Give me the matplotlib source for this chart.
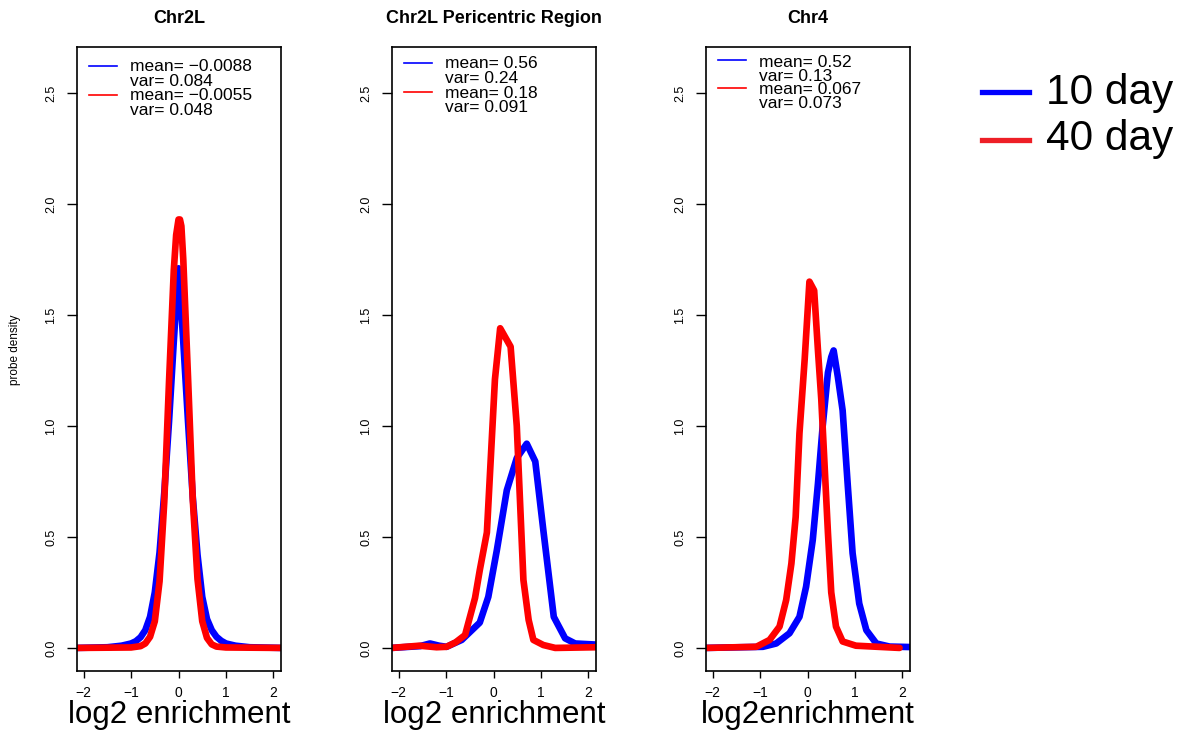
import matplotlib
matplotlib.use('Agg')
from matplotlib import pyplot as plt
from matplotlib.lines import Line2D

plt.rcParams['font.family'] = ['Liberation Sans', 'DejaVu Sans']

titles = ['Chr2L', 'Chr2L Pericentric Region', 'Chr4']
xlabels = ['log2 enrichment', 'log2 enrichment', 'log2enrichment']
series = ['10 day', '40 day']

# Chr2L
chr2l_10_x = [-2.14, -1.5, -1.2, -1.0, -0.9, -0.8, -0.7, -0.6, -0.5, -0.4, -0.3, -0.2,
              -0.1, -0.05, 0.0, 0.05, 0.1, 0.2, 0.3, 0.4, 0.5, 0.6, 0.7, 0.8, 0.9, 1.0,
              1.2, 1.5, 2.16]
chr2l_10_y = [0.0, 0.003, 0.01, 0.02, 0.03, 0.048, 0.08, 0.14, 0.25, 0.43, 0.70, 1.02,
              1.38, 1.55, 1.71, 1.55, 1.38, 1.02, 0.68, 0.42, 0.23, 0.13, 0.08, 0.05, 0.032,
              0.02, 0.01, 0.003, 0.0]
chr2l_40_x = [-2.14, -1.0, -0.8, -0.7, -0.6, -0.5, -0.4, -0.3, -0.2, -0.1, -0.05, 0.0,
              0.03, 0.06, 0.1, 0.2, 0.3, 0.4, 0.5, 0.6, 0.7, 0.8, 1.0, 2.16]
chr2l_40_y = [0.0, 0.002, 0.008, 0.02, 0.05, 0.12, 0.30, 0.66, 1.2, 1.7, 1.86, 1.93,
              1.93, 1.9, 1.75, 1.22, 0.67, 0.31, 0.12, 0.045, 0.016, 0.006, 0.002, 0.0]

# Chr2L pericentric
peri_10_x = [-2.15, -1.55, -1.34, -1.15, -0.99, -0.67, -0.29, -0.11, 0.07, 0.28, 0.49,
             0.70, 0.88, 1.05, 1.27, 1.51, 1.72, 2.16]
peri_10_y = [0.0, 0.008, 0.02, 0.01, 0.005, 0.036, 0.114, 0.23, 0.44, 0.71, 0.855,
             0.92, 0.84, 0.53, 0.14, 0.043, 0.02, 0.015]
peri_40_x = [-2.15, -1.56, -1.2, -0.99, -0.8, -0.60, -0.39, -0.29, -0.14, 0.03, 0.14,
             0.36, 0.49, 0.63, 0.74, 0.84, 1.05, 1.3, 2.16]
peri_40_y = [0.0, 0.01, 0.003, 0.005, 0.025, 0.058, 0.225, 0.35, 0.52, 1.21, 1.44,
             1.357, 1.0, 0.306, 0.126, 0.036, 0.013, 0.0, 0.003]

# Chr4
chr4_10_x = [-2.15, -0.94, -0.66, -0.38, -0.17, -0.03, 0.11, 0.22, 0.32, 0.43, 0.5,
             0.55, 0.64, 0.74, 0.85, 0.95, 1.09, 1.24, 1.45, 1.73, 2.15]
chr4_10_y = [0.0, 0.005, 0.02, 0.066, 0.14, 0.276, 0.486, 0.74, 1.0, 1.24, 1.31,
             1.34, 1.22, 1.07, 0.727, 0.427, 0.20, 0.08, 0.02, 0.006, 0.004]
chr4_40_x = [-2.13, -1.08, -0.80, -0.59, -0.45, -0.34, -0.25, -0.17, -0.06, 0.04, 0.14,
             0.22, 0.29, 0.36, 0.43, 0.50, 0.60, 0.74, 1.02, 1.94]
chr4_40_y = [0.0, 0.005, 0.036, 0.096, 0.216, 0.38, 0.59, 0.967, 1.30, 1.65, 1.61,
             1.34, 1.12, 0.82, 0.52, 0.25, 0.096, 0.029, 0.01, 0.0]

means_10 = ['\u22120.0088', '0.56', '0.52']
vars_10 = ['0.084', '0.24', '0.13']
means_40 = ['\u22120.0055', '0.18', '0.067']
vars_40 = ['0.048', '0.091', '0.073']

curves = [(chr2l_10_x, chr2l_10_y, chr2l_40_x, chr2l_40_y),
          (peri_10_x, peri_10_y, peri_40_x, peri_40_y),
          (chr4_10_x, chr4_10_y, chr4_40_x, chr4_40_y)]

yticks = [0.0, 0.5, 1.0, 1.5, 2.0, 2.5]
xticks = [-2, -1, 0, 1, 2]

W, H = 1190, 734
fig = plt.figure(figsize=(W / 100, H / 100), dpi=100)

lefts = [77, 392, 706]
box_w, box_top, box_bot = 204, 47, 671
# legend: top of text block, blue line, red line (px below box top), line spacing factor
leg_top = [12, 9.5, 8]
leg_blue = [19, 16, 13]
leg_red = [48, 45, 41]
leg_sp = [0.97, 0.97, 0.88]

for i in range(3):
    ax = fig.add_axes([lefts[i] / W, (H - box_bot) / H, box_w / W, (box_bot - box_top) / H])
    x10, y10, x40, y40 = curves[i]
    ax.plot(x10, y10, color='blue', lw=4.8, solid_joinstyle='round', solid_capstyle='round')
    ax.plot(x40, y40, color='red', lw=4.8, solid_joinstyle='round', solid_capstyle='round')
    ax.set_xlim(-2.14, 2.16)
    ax.set_ylim(-0.104, 2.707)
    ax.set_xticks(xticks)
    ax.set_yticks(yticks)
    ax.set_yticklabels(['%.1f' % v for v in yticks], rotation=90, va='center')
    ax.tick_params(axis='y', length=7, width=1, pad=7, labelsize=9)
    ax.tick_params(axis='x', length=5, width=1, pad=6, labelsize=10)
    for s in ax.spines.values():
        s.set_linewidth(1.2)

    # legend inside the box (no frame)
    hgt = box_bot - box_top
    txt = '\n'.join(['mean= ' + means_10[i], 'var= ' + vars_10[i],
                     'mean= ' + means_40[i], 'var= ' + vars_40[i]])
    ax.text(53 / box_w, 1 - leg_top[i] / hgt, txt, transform=ax.transAxes,
            fontsize=12.5, va='top', ha='left', linespacing=leg_sp[i])
    for yp, col in [(leg_blue[i], 'blue'), (leg_red[i], 'red')]:
        ax.plot([12 / box_w, 40 / box_w], [1 - yp / hgt] * 2, color=col, lw=1.2,
                transform=ax.transAxes)

    cx = (lefts[i] + box_w / 2) / W
    fig.text(cx, 1 - 23 / H, titles[i], ha='center', va='baseline',
             fontsize=13, fontweight='bold')
    fig.text(cx, 1 - 723 / H, xlabels[i], ha='center', va='baseline', fontsize=22.5)

fig.text(15 / W, 1 - 350 / H, 'probe density', rotation=90, ha='center', va='center',
         fontsize=8.5)

# outer legend
for k, (lab, col) in enumerate(zip(series, ['blue', '#ee1f26'])):
    yl = [92, 140][k]
    fig.add_artist(Line2D([982 / W, 1029 / W], [1 - yl / H, 1 - yl / H], color=col, lw=3.8,
                          transform=fig.transFigure))
    fig.text(1046 / W, 1 - [104, 150][k] / H, lab, ha='left', va='baseline', fontsize=30.5)

plt.savefig('out.png', dpi=100)
